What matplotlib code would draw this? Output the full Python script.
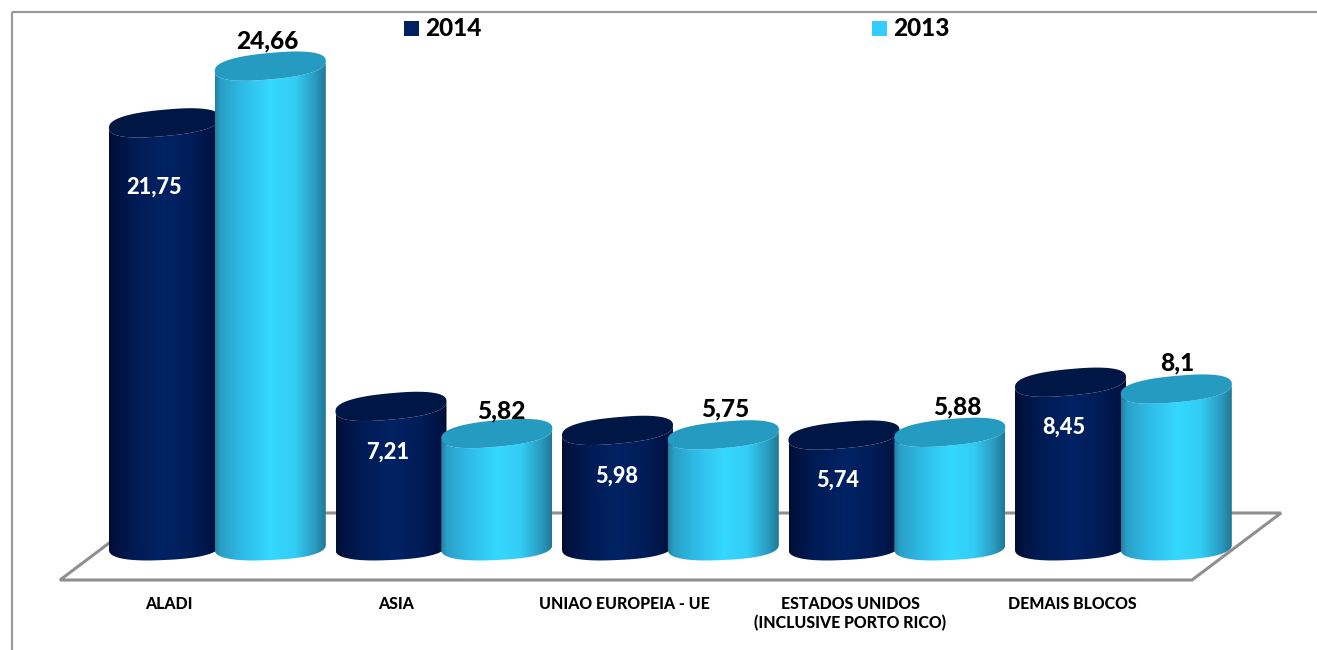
import numpy as np
import matplotlib
matplotlib.use("Agg")
import matplotlib.pyplot as plt
from matplotlib.colors import LinearSegmentedColormap
from matplotlib.patches import PathPatch, Polygon, Rectangle
from matplotlib.path import Path

categories = ["ALADI", "ASIA", "UNIAO EUROPEIA - UE", "ESTADOS UNIDOS\n(INCLUSIVE PORTO RICO)", "DEMAIS BLOCOS"]
values_2014 = [21.75, 7.21, 5.98, 5.74, 8.45]
values_2013 = [24.66, 5.82, 5.75, 5.88, 8.1]
labels_2014 = ["21,75", "7,21", "5,98", "5,74", "8,45"]
labels_2013 = ["24,66", "5,82", "5,75", "5,88", "8,1"]
series_names = ["2014", "2013"]

W, H = 1317, 650
BASE_PX = 547.0
PX_PER_UNIT = 19.5
plt.rcParams["font.family"] = ["Lato", "DejaVu Sans"]

fig = plt.figure(figsize=(W / 100, H / 100), dpi=100, facecolor="white")
ax = fig.add_axes([0, 0, 1, 1])
ax.set_xlim(0, W)
ax.set_ylim((BASE_PX - H) / PX_PER_UNIT, BASE_PX / PX_PER_UNIT)
ax.axis("off")


def py(px):
    """Convert a pixel row to the value scale."""
    return (BASE_PX - px) / PX_PER_UNIT


GRAY = "#8f8f8f"
ax.plot([11.5, 11.5], [py(650), py(12)], color="#9a9a9a", lw=1.6, solid_capstyle="butt")
ax.plot([11.5, W], [py(12), py(12)], color="#9a9a9a", lw=1.6, solid_capstyle="butt")
floor_px = [(60, 580), (1192, 580), (1281, 513), (149, 513)]
ax.add_patch(Polygon([(x, py(y)) for x, y in floor_px], closed=True, fc="white",
                     ec=GRAY, lw=2.2, joinstyle="miter", zorder=1))

dark_cmap = LinearSegmentedColormap.from_list("d", [
    (0, "#000e30"), (0.06, "#001240"), (0.25, "#001c56"), (0.5, "#002263"),
    (0.75, "#001d58"), (0.95, "#001242"), (1, "#000e34")])
light_cmap = LinearSegmentedColormap.from_list("l", [
    (0, "#237f9f"), (0.05, "#2a9fc6"), (0.25, "#2fbbe8"), (0.5, "#35d8ff"),
    (0.72, "#33cdf5"), (0.9, "#2a9cc2"), (1, "#1f7896")])
grad = np.linspace(0, 1, 256)[None, :]

HALF = 55.5
B_TOP = 13.2
B_BOT = 13.0
SHEAR_TOP = 5.0 / HALF
SHEAR_BOT = 2.5 / HALF
ROUND = 0.82  # superellipse exponent: fuller than a true ellipse


def arc(t, b, shear):
    c, s = np.cos(t), np.sin(t)
    dx = HALF * np.sign(c) * np.abs(c) ** ROUND
    dy = b * np.sign(s) * np.abs(s) ** ROUND - shear * dx
    return dx, dy


def cylinder(cx, value, cmap, top_color, z):
    t = np.linspace(0, np.pi, 120)
    top_px = BASE_PX - value * PX_PER_UNIT
    dxb, dyb = arc(t, B_BOT, SHEAR_BOT)
    dxt, dyt = arc(t[::-1], B_TOP, SHEAR_TOP)
    verts = np.c_[np.r_[cx + dxb, cx + dxt], np.r_[py(BASE_PX + dyb), py(top_px + dyt)]]
    clip = Path(np.vstack([verts, verts[0]]), closed=True)
    im = ax.imshow(grad, cmap=cmap, aspect="auto", zorder=z,
                   extent=(cx - HALF, cx + HALF, py(BASE_PX + 20), py(top_px - 20)))
    patch = PathPatch(clip, transform=ax.transData, fc="none", ec="none")
    ax.add_patch(patch)
    im.set_clip_path(patch)
    a = np.linspace(0, 2 * np.pi, 240)
    cdx, cdy = arc(a, B_TOP, SHEAR_TOP)
    ax.fill(cx + cdx, py(top_px + cdy), color=top_color, lw=0, zorder=z + 0.1)


centers = 164.5 + 226.5 * np.arange(len(categories))
STEP = 105.8

for i, c in enumerate(centers):
    cylinder(c, values_2014[i], dark_cmap, "#001645", 3 + i * 2)
    cylinder(c + STEP, values_2013[i], light_cmap, "#269bc2", 4 + i * 2)

label_2014_px = [(154, 187), (388, 452), (617, 476), (838, 480), (1064, 427)]
label_2013_px = [(267, 41), (501, 411), (725, 409), (957, 407), (1177, 363)]
for (x, y), s in zip(label_2014_px, labels_2014):
    ax.text(x, py(y), s, color="white", fontsize=15.7, fontweight=900, ha="center", va="center", zorder=30)
for (x, y), s in zip(label_2013_px, labels_2013):
    ax.text(x, py(y), s, color="black", fontsize=17.6, fontweight=900, ha="center", va="center", zorder=30)

cat_x = [169, 396, 624, 850, 1072]
for x, s in zip(cat_x, categories):
    ax.text(x, py(596), s, color="black", fontsize=11.4, fontweight=900, ha="center", va="top",
            linespacing=1.25, zorder=30)

for x0, name, col in zip([404, 872], series_names, ["#002060", "#33ccff"]):
    ax.add_patch(Rectangle((x0, py(36)), 15, py(21) - py(36), fc=col, ec="none", zorder=30))
    ax.text(x0 + 21, py(28.5), name, color="black", fontsize=17.6, fontweight=900, ha="left", va="center", zorder=30)

ax.set_xlim(0, W)
ax.set_ylim((BASE_PX - H) / PX_PER_UNIT, BASE_PX / PX_PER_UNIT)
fig.savefig("out.png", dpi=100, facecolor="white")
